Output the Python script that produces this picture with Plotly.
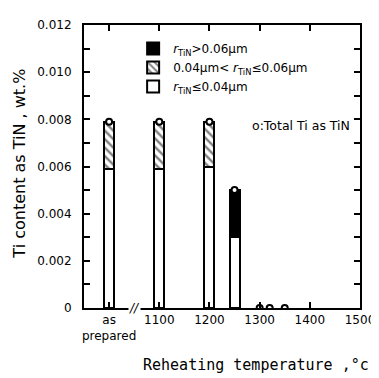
import plotly.graph_objects as go

# Data
categories = [1000, 1100, 1200, 1250]          # 1000 = "as prepared"
fine = [0.0059, 0.0059, 0.0060, 0.0030]         # r_TiN <= 0.04 um
medium = [0.0020, 0.0020, 0.0019, None]         # 0.04 < r_TiN <= 0.06 um
coarse = [None, None, None, 0.0020]             # r_TiN > 0.06 um
total_x = [1000, 1100, 1200, 1250, 1300, 1320, 1350]
total_ti = [0.0079, 0.0079, 0.0079, 0.0050, 0.0, 0.0, 0.0]
x_tickvals = [1000, 1100, 1200, 1300, 1400, 1500]
x_ticktext = ["as<br>prepared", "1100", "1200", "1300", "1400", "1500"]
y_tickvals = [0, 0.002, 0.004, 0.006, 0.008, 0.010, 0.012]
y_ticktext = ["0", "0.002", "0.004", "0.006", "0.008", "0.010", "0.012"]

FONT = "DejaVu Sans"
bar_w = 20

fig = go.Figure()
fig.add_trace(go.Bar(x=categories, y=fine, width=bar_w,
                     name="<i>r</i><sub>TiN</sub>≤0.04μm",
                     marker=dict(color="white", line=dict(color="black", width=2))))
fig.add_trace(go.Bar(x=categories, y=medium, width=bar_w,
                     name="0.04μm< <i>r</i><sub>TiN</sub>≤0.06μm",
                     marker=dict(color="white", line=dict(color="black", width=2),
                                 pattern=dict(shape="\\", fgcolor="black", bgcolor="white",
                                              size=6, solidity=0.4))))
fig.add_trace(go.Bar(x=categories, y=coarse, width=bar_w,
                     name="<i>r</i><sub>TiN</sub>>0.06μm",
                     marker=dict(color="black", line=dict(color="black", width=2))))
fig.add_trace(go.Scatter(x=total_x, y=total_ti, mode="markers", showlegend=False,
                         marker=dict(symbol="circle", size=6, color="white",
                                     line=dict(color="black", width=2))))

fig.update_layout(
    width=379, height=378,
    margin=dict(l=76, r=27, t=10, b=78),
    barmode="stack",
    plot_bgcolor="white", paper_bgcolor="white",
    font=dict(family=FONT, size=12, color="black"),
    legend=dict(x=0.178, y=0.968, xanchor="left", yanchor="top",
                traceorder="reversed", bgcolor="rgba(0,0,0,0)",
                font=dict(size=12), tracegroupgap=0),
    xaxis=dict(range=[950, 1500], tickvals=x_tickvals, ticktext=x_ticktext,
               ticks="inside", ticklen=6, tickwidth=1.5, tickcolor="black",
               showline=True, linecolor="black", linewidth=2, mirror="ticks",
               showgrid=False, zeroline=False),
    yaxis=dict(range=[0, 0.012], tickvals=y_tickvals, ticktext=y_ticktext,
               ticks="inside", ticklen=6, tickwidth=1.5, tickcolor="black",
               minor=dict(dtick=0.001, ticks="inside", ticklen=6, tickwidth=1.5, tickcolor="black"),
               showline=True, linecolor="black", linewidth=2, mirror="ticks",
               showgrid=False, zeroline=False, ticklabelstandoff=8),
    annotations=[
        dict(x=1050, y=0, xref="x", yref="y", text="<i>//</i>", showarrow=False,
             font=dict(size=12), bgcolor="white", borderpad=0),
        dict(x=0.6, y=0.645, xref="paper", yref="paper", xanchor="left", yanchor="middle",
             text="o:Total Ti as TiN", showarrow=False, font=dict(size=12.5)),
        dict(x=-0.232, y=0.51, xref="paper", yref="paper", xanchor="center", yanchor="middle",
             textangle=-90, text="Ti content as TiN , wt.%", showarrow=False,
             font=dict(size=16)),
        dict(x=0.623, y=-0.2, xref="paper", yref="paper", xanchor="center", yanchor="middle",
             text="Reheating temperature ,°c", showarrow=False,
             font=dict(family="DejaVu Sans Mono", size=15)),
    ],
)

fig.write_html("out.html")
